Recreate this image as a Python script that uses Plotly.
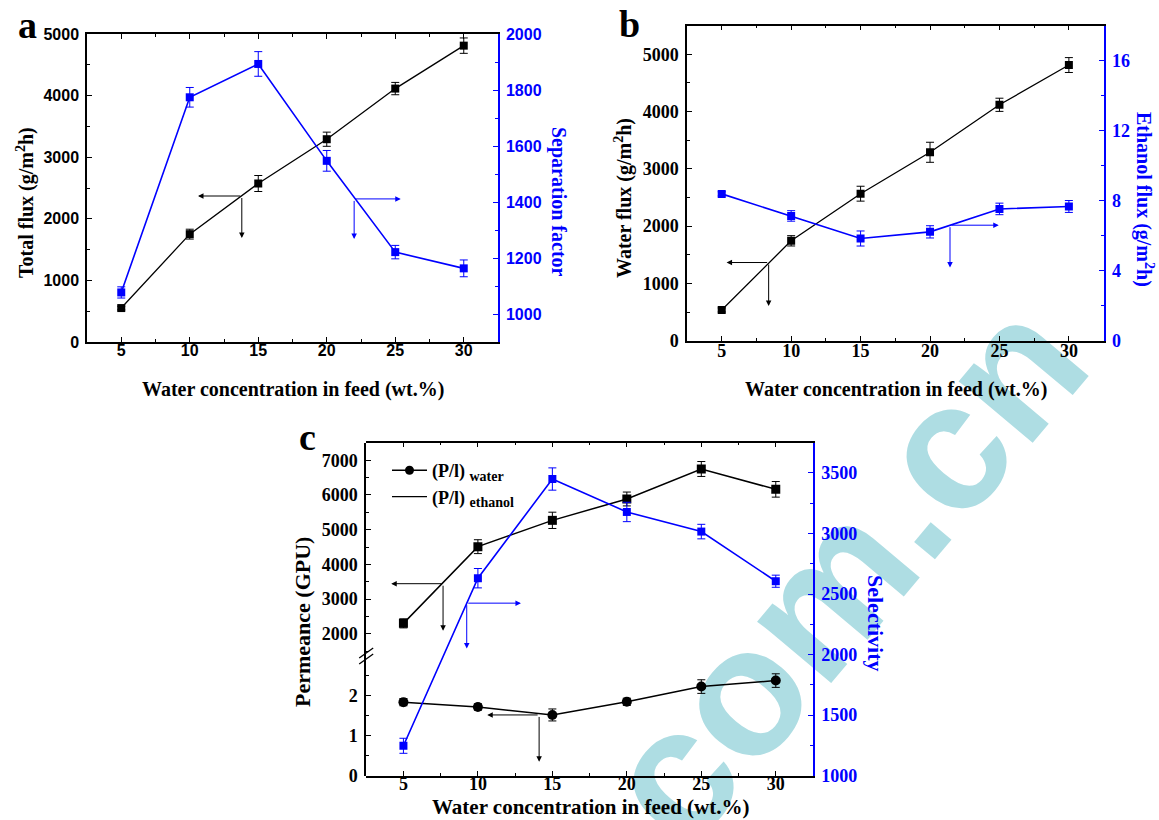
import plotly.graph_objects as go

# ---------------- data ----------------
conc = [5, 10, 15, 20, 25, 30]

# (a) total flux and separation factor
total_flux = [551, 1751, 2573, 3292, 4114, 4811]
total_flux_err = [30, 80, 130, 115, 100, 125]
sep_factor = [1077, 1774, 1893, 1547, 1221, 1163]
sep_factor_err = [20, 35, 44, 37, 24, 30]

# (b) water flux and ethanol flux
water_flux = [537, 1744, 2567, 3290, 4119, 4813]
water_flux_err = [35, 90, 130, 175, 115, 130]
ethanol_flux = [8.39, 7.13, 5.84, 6.22, 7.53, 7.67]
ethanol_flux_err = [0.12, 0.30, 0.43, 0.35, 0.33, 0.34]

# (c) permeance and selectivity
perm_water = [2298, 4510, 5269, 5885, 6750, 6163]
perm_water_err = [130, 200, 235, 200, 215, 225]
perm_ethanol = [1.84, 1.72, 1.52, 1.85, 2.23, 2.38]
perm_ethanol_err = [0.09, 0.08, 0.15, 0.09, 0.17, 0.17]
selectivity = [1247, 2631, 3450, 3178, 3016, 2606]
selectivity_err = [62, 80, 92, 80, 60, 50]

X_TITLE = "Water concentration in feed (wt.%)"

# ---------------- layout helpers ----------------
W, H = 1159, 820
SERIF = "Liberation Serif"
SANS = "Liberation Sans"
BLUE = "#0000ff"


def fx(p):
    return p / W


def fy(p):
    return 1 - p / H


A_X = [fx(87), fx(498)]
A_Y = [fy(342), fy(34)]
B_X = [fx(687), fx(1103.6)]
B_Y = [fy(340.7), fy(25.7)]
C_X = [fx(366.2), fx(813)]
C_BREAK = fy(656)
C_Y_LOW = [fy(775.7), C_BREAK]
C_Y_UP = [C_BREAK, fy(442.7)]
C_Y_ALL = [C_Y_LOW[0], C_Y_UP[1]]


def axis(domain, rng, tick0, dtick, minor_dtick, color="black", family=SERIF,
         size=18, standoff=3, **kw):
    d = dict(
        domain=domain, range=rng, tick0=tick0, dtick=dtick, automargin=False,
        showline=True, linecolor=color, linewidth=1.5,
        ticks="inside", ticklen=5, tickwidth=1.2, tickcolor=color,
        minor=dict(ticks="inside", ticklen=3, tickwidth=1.2, tickcolor=color,
                   dtick=minor_dtick, tick0=tick0, showgrid=False),
        showgrid=False, zeroline=False,
        tickfont=dict(family=family, size=size, color=color, weight="bold"),
        ticklabelstandoff=standoff,
    )
    d.update(kw)
    return d


def series(x, y, err, xa, ya, color, symbol, msize, lw, **kw):
    return go.Scatter(
        x=x, y=y, xaxis=xa, yaxis=ya, mode="lines+markers",
        line=dict(color=color, width=lw),
        marker=dict(symbol=symbol, size=msize, color=color),
        error_y=dict(type="data", array=err, visible=True, color=color,
                     thickness=1, width=4),
        showlegend=False, **kw)


fig = go.Figure()

# panel a
fig.add_trace(series(conc, total_flux, total_flux_err, "x", "y", "black", "square", 8, 1.3))
fig.add_trace(series(conc, sep_factor, sep_factor_err, "x", "y2", BLUE, "square", 8, 1.6))
# panel b
fig.add_trace(series(conc, water_flux, water_flux_err, "x2", "y3", "black", "square", 8, 1.3))
fig.add_trace(series(conc, ethanol_flux, ethanol_flux_err, "x2", "y4", BLUE, "square", 8, 1.6))
# panel c
fig.add_trace(series(conc, perm_water, perm_water_err, "x3", "y6", "black", "square", 9, 1.5))
fig.add_trace(series(conc, perm_ethanol, perm_ethanol_err, "x3", "y5", "black", "circle", 10, 1.5))
fig.add_trace(series(conc, selectivity, selectivity_err, "x3", "y7", BLUE, "square", 8, 1.6))

# legend entries for panel c
SUB = "<sub><span style='font-size:14px'>{}</span></sub>"
fig.add_trace(go.Scatter(x=[None], y=[None], xaxis="x3", yaxis="y6", mode="lines+markers",
                         line=dict(color="black", width=1.5),
                         marker=dict(symbol="circle", size=9, color="black"),
                         name="(P/l) " + SUB.format("water")))
fig.add_trace(go.Scatter(x=[None], y=[None], xaxis="x3", yaxis="y6", mode="lines",
                         line=dict(color="black", width=1.2),
                         name="(P/l) " + SUB.format("ethanol")))

fig.update_layout(
    width=W, height=H, margin=dict(l=0, r=0, t=0, b=0, pad=0, autoexpand=False),
    paper_bgcolor="white", plot_bgcolor="rgba(0,0,0,0)",
    # panel a
    xaxis=axis(A_X, [2.5, 32.5], 0, 5, 2.5, family=SANS, size=16, standoff=-7,
               anchor="y", mirror="ticks"),
    yaxis=axis(A_Y, [0, 5000], 0, 1000, 500, family=SANS, size=16, anchor="x"),
    yaxis2=axis(A_Y, [900, 2000], 1000, 200, 100, color=BLUE, family=SANS, size=16,
                anchor="x", overlaying="y", side="right"),
    # panel b
    xaxis2=axis(B_X, [2.5, 32.5], 0, 5, 2.5, standoff=-7, anchor="y3", mirror="ticks"),
    yaxis3=axis(B_Y, [0, 5500], 0, 1000, 500, anchor="x2"),
    yaxis4=axis(B_Y, [0, 18], 0, 4, 2, color=BLUE, anchor="x2",
                overlaying="y3", side="right"),
    # panel c (broken left axis)
    xaxis3=axis(C_X, [2.5, 32.5], 0, 5, 2.5, standoff=-9, anchor="y7", mirror="ticks"),
    yaxis5=axis(C_Y_LOW, [0, 2.995], 0, 1, 0.5, anchor="x3"),
    yaxis6=axis(C_Y_UP, [1357, 7508], 0, 1000, 500, anchor="x3"),
    yaxis7=axis(C_Y_ALL, [1000, 3750], 1000, 500, 250, color=BLUE, anchor="x3",
                side="right"),
    legend=dict(x=fx(387), y=fy(452), xanchor="left", yanchor="top",
                bgcolor="rgba(0,0,0,0)", borderwidth=0,
                font=dict(family=SERIF, size=18, color="black", weight="bold"),
                itemwidth=35, tracegroupgap=0),
)

# watermark, kept underneath the plots
fig.add_shape(type="rect", xref="paper", yref="paper",
              x0=fx(560), x1=fx(1100), y0=fy(820), y1=fy(300),
              line=dict(width=0), fillcolor="rgba(0,0,0,0)", layer="below",
              label=dict(text="com.cn", textangle=-50, textposition="middle center",
                         font=dict(family=SANS, size=182, color="#aedde3",
                                   weight="bold")))

# axis break marks on the left axis of panel c
for dy in (-3, 3):
    fig.add_shape(type="line", xref="paper", yref="paper",
                  x0=C_X[0] - fx(7), x1=C_X[0] + fx(7),
                  y0=C_BREAK - 5 / H + dy / H, y1=C_BREAK + 5 / H + dy / H,
                  line=dict(color="black", width=1.3))

annotations = []


def text(t, x, y, size=20, color="black", angle=0):
    annotations.append(dict(text=t, x=fx(x), y=fy(y), xref="paper", yref="paper",
                            xanchor="center", yanchor="middle", textangle=angle,
                            showarrow=False,
                            font=dict(family=SERIF, size=size, color=color,
                                      weight="bold")))


def arrow(xa, ya, x_tail, y_tail, x_head, y_head, color):
    annotations.append(dict(text=" ", font=dict(size=1), xref=xa, yref=ya,
                            axref=xa, ayref=ya,
                            x=x_head, y=y_head, ax=x_tail, ay=y_tail,
                            showarrow=True, arrowhead=2, arrowsize=1.1,
                            arrowwidth=1, arrowcolor=color,
                            standoff=0, startstandoff=0))


# panel letters
text("a", 27, 25, size=38)
text("b", 629, 24, size=38)
text("c", 307, 437, size=38)

# axis titles
text("Total flux (g/m<sup>2</sup>h)", 25, 203, angle=-90)
text("Separation factor", 559, 202, color=BLUE, angle=90)
text(X_TITLE, 293, 389)
text("Water flux (g/m<sup>2</sup>h)", 623, 198, angle=-90)
text("Ethanol flux (g/m<sup>2</sup>h)", 1145, 199, color=BLUE, angle=90)
text(X_TITLE, 896, 389)
text("Permeance (GPU)", 302, 622, size=22, angle=-90)
text("Selectivity", 876, 623, size=22, color=BLUE, angle=90)
text(X_TITLE, 590, 807, size=21)

# axis-pointing arrows
arrow("x", "y", 13.8, 2370, 10.6, 2370, "black")
arrow("x", "y", 13.8, 2370, 13.8, 1688, "black")
arrow("x", "y2", 22.0, 1411, 25.4, 1411, BLUE)
arrow("x", "y2", 22.0, 1411, 22.0, 1268, BLUE)

arrow("x2", "y3", 8.38, 1365, 5.35, 1365, "black")
arrow("x2", "y3", 8.38, 1365, 8.38, 607, "black")
arrow("x2", "y4", 21.44, 6.6, 24.95, 6.6, BLUE)
arrow("x2", "y4", 21.44, 6.6, 21.44, 4.18, BLUE)

arrow("x3", "y6", 7.66, 3442, 4.18, 3442, "black")
arrow("x3", "y6", 7.66, 3442, 7.66, 2087, "black")
arrow("x3", "y7", 9.25, 2425, 12.89, 2425, BLUE)
arrow("x3", "y7", 9.25, 2425, 9.25, 2050, BLUE)
arrow("x3", "y5", 14.11, 1.52, 10.63, 1.52, "black")
arrow("x3", "y5", 14.11, 1.52, 14.11, 0.35, "black")

fig.update_layout(annotations=annotations)

fig.write_html("out.html")
